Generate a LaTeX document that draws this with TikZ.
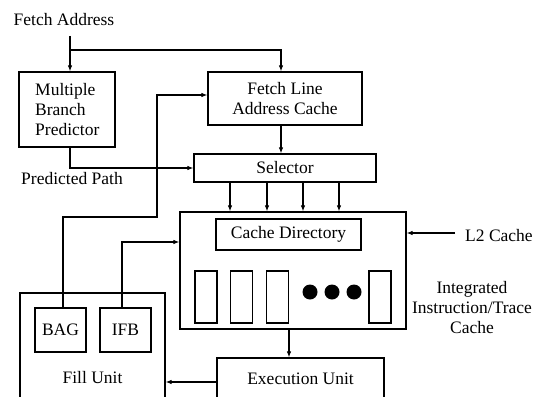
\documentclass[tikz,border=0pt]{standalone}
\usepackage{fontspec}
\setmainfont{Liberation Serif}
\usetikzlibrary{arrows.meta}
\begin{document}
\begin{tikzpicture}[x=1pt,y=-1pt,
  every node/.style={font=\fontsize{17.5}{20}\selectfont},
  box/.style={draw,line width=1.2pt,inner sep=0pt,align=center},
  slot/.style={draw,line width=1.1pt,minimum width=22pt,minimum height=52pt,inner sep=0pt},
  conn/.style={line width=1.1pt},
  arr/.style={line width=1.1pt,-{Latex[length=6pt,width=4.5pt]}},
  lbl/.style={inner sep=0pt,align=center}]
\useasboundingbox (0,0) rectangle (537,396);
\clip (0,0) rectangle (537,396);
% boxes
\node[box,minimum width=96pt,minimum height=75pt] (mbp) at (67,109.5) {};
\node[lbl,align=left,anchor=west] (mbpt) at (35,109.5) {Multiple\\Branch\\Predictor};
\node[box,minimum width=154pt,minimum height=53pt] (flac) at (285,98.5) {Fetch Line\\Address Cache};
\node[box,minimum width=182pt,minimum height=28pt] (sel) at (285,168) {Selector};
\node[box,minimum width=226pt,minimum height=117pt] (iic) at (293,270.5) {};
\node[box,minimum width=145pt,minimum height=31pt] (dir) at (288.5,234.5) {Cache Directory};
\node[slot] (s1) at (206,297) {};
\node[slot] (s2) at (241.5,297) {};
\node[slot] (s3) at (277.5,297) {};
\node[slot] (s4) at (380,297) {};
\fill (310,292) circle (7.5pt) (332,292) circle (7.5pt) (354,292) circle (7.5pt);
\node[box,minimum width=167pt,minimum height=70pt] (exe) at (300.5,393) {};
\node[lbl] (exet) at (300.5,379) {Execution Unit};
\node[box,minimum width=145pt,minimum height=130pt] (fill) at (92.5,358) {};
\node[lbl] (fillt) at (92.5,378) {Fill Unit};
\node[box,minimum width=51pt,minimum height=44pt] (bag) at (60.5,330) {BAG};
\node[box,minimum width=51pt,minimum height=44pt] (ifb) at (125.5,330) {IFB};
% labels
\node[lbl] (fa) at (64,20) {Fetch Address};
\node[lbl] (pp) at (72,179) {Predicted Path};
\node[lbl,anchor=west] (l2) at (465,236) {L2 Cache};
\node[lbl] (iit) at (472,308) {Integrated\\Instruction/Trace\\Cache};
% coordinates
\coordinate (fa0) at (70,36);
\coordinate (br) at (70,50);
\coordinate (xf) at (281,0);
\coordinate (l2s) at (455,233);
\coordinate (xa) at (230,0);
\coordinate (xb) at (267,0);
\coordinate (xc) at (303,0);
\coordinate (xd) at (339,0);
\coordinate (xe) at (289,0);
\coordinate (xg) at (63,0);
\coordinate (xi) at (122,0);
% connectors
\draw[arr] (fa0) -- (mbp.north -| fa0);
\draw[arr] (br) -- (br -| xf) -- (flac.north -| xf);
\draw[arr] (flac.south -| xf) -- (sel.north -| xf);
\draw[arr] (mbp.south -| fa0) |- (sel.west);
\draw[arr] (bag.north -| xg) -- (63,217) -- (157,217) -- (157,95) -- (flac.west |- 0,95);
\draw[arr] (ifb.north -| xi) |- (iic.west |- 0,242);
\foreach \c in {xa,xb,xc,xd}{\draw[arr] (sel.south -| \c) -- (iic.north -| \c);}
\draw[arr] (l2s) -- (iic.east |- l2s);
\draw[arr] (iic.south -| xe) -- (exe.north -| xe);
\draw[arr] (exe.west |- 0,382) -- (fill.east |- 0,382);
\end{tikzpicture}
\end{document}
